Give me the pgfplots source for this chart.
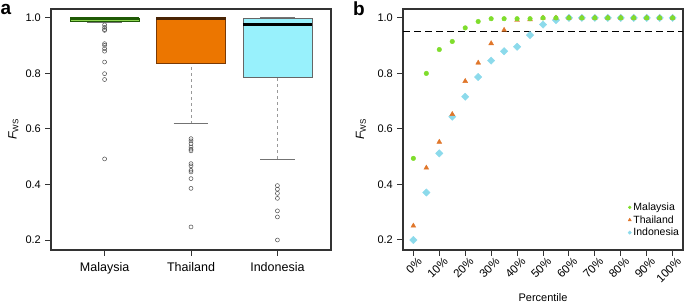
\documentclass[border=0pt]{standalone}
\usepackage{fontspec}
\setmainfont{Liberation Sans}
\usepackage{pgfplots}
\pgfplotsset{compat=1.18}
\usepgfplotslibrary{statistics}
\definecolor{mgreenfill}{HTML}{8ED653}
\definecolor{mgreendark}{HTML}{1F5A05}
\definecolor{thorange}{HTML}{EC7600}
\definecolor{thdark}{HTML}{7A3A05}
\definecolor{idcyan}{HTML}{98F1FC}
\definecolor{axcol}{HTML}{333333}
\definecolor{ptgreen}{HTML}{7FDD2C}
\definecolor{ptorange}{HTML}{E0762A}
\definecolor{ptblue}{HTML}{8CDAEB}
\pgfplotsset{
  boxplot/draw/lower whisker/.code={%
    \draw[dashed, gray!80, line width=0.6pt] (boxplot cs:\pgfplotsboxplotvalue{lower whisker}) -- (boxplot cs:\pgfplotsboxplotvalue{lower quartile});
    \draw[gray!90!black, line width=0.8pt] (boxplot whisker cs:\pgfplotsboxplotvalue{lower whisker},0) -- (boxplot whisker cs:\pgfplotsboxplotvalue{lower whisker},1);
  },
  boxplot/draw/upper whisker/.code={%
    \draw[dashed, gray!80, line width=0.6pt] (boxplot cs:\pgfplotsboxplotvalue{upper whisker}) -- (boxplot cs:\pgfplotsboxplotvalue{upper quartile});
    \draw[gray!90!black, line width=0.8pt] (boxplot whisker cs:\pgfplotsboxplotvalue{upper whisker},0) -- (boxplot whisker cs:\pgfplotsboxplotvalue{upper whisker},1);
  },
  myaxis/.style={
    scale only axis, width=280pt, height=241pt, anchor=south west,
    ymin=0.164, ymax=1.032,
    ytick={0.2,0.4,0.6,0.8,1.0},
    yticklabels={0.2,0.4,0.6,0.8,1.0},
    axis line style={draw=axcol, line width=1.1pt},
    tick style={draw=axcol, line width=1pt},
    major tick length=6pt,
    tick align=outside,
    xtick pos=bottom, ytick pos=left,
    yticklabel style={font=\fontsize{11}{13}\selectfont, anchor=east, inner sep=0pt, xshift=-4pt},
    /pgf/number format/assume math mode=true,
    clip=false,
  },
}
\begin{document}
\begin{tikzpicture}[x=1pt,y=1pt]
\useasboundingbox (0,0) rectangle (685,304);
% ---------------- panel a
\begin{axis}[myaxis, at={(51pt,54pt)},
  xmin=0.38, xmax=3.62,
  xtick={1,2,3}, xticklabels={Malaysia,Thailand,Indonesia},
  xticklabel style={font=\fontsize{12.5}{14}\selectfont, anchor=north, inner sep=0pt, yshift=-6pt},
  boxplot/draw direction=y,
  boxplot/box extend=0.8, boxplot/whisker extend=0.4,
]
\addplot[boxplot prepared={draw position=1, lower whisker=0.984, lower quartile=0.988, median=0.9985, upper quartile=1.0, upper whisker=1.0},
  boxplot/every box/.style={fill=mgreenfill, draw=mgreendark, line width=0.7pt},
  boxplot/every median/.style={draw=mgreendark, line width=2.6pt},
  mark=o, mark size=2pt, mark options={draw=gray!60!black, line width=0.5pt, solid}]
  coordinates {(0,0.975) (0,0.966) (0,0.958) (0,0.955) (0,0.907) (0,0.901) (0,0.889) (0,0.880) (0,0.841) (0,0.799) (0,0.778) (0,0.492)};
\addplot[boxplot prepared={draw position=2, lower whisker=0.619, lower quartile=0.835, median=0.9985, upper quartile=1.0, upper whisker=1.0},
  boxplot/every box/.style={fill=thorange, draw=thdark, line width=0.7pt},
  boxplot/every median/.style={draw=thdark!60!black, line width=2.6pt},
  mark=o, mark size=2pt, mark options={draw=gray!60!black, line width=0.5pt, solid}]
  coordinates {(0,0.565) (0,0.557) (0,0.547) (0,0.535) (0,0.527) (0,0.521) (0,0.475) (0,0.467) (0,0.451) (0,0.445) (0,0.421) (0,0.386) (0,0.247)};
\addplot[boxplot prepared={draw position=3, lower whisker=0.492, lower quartile=0.785, median=0.976, upper quartile=1.0, upper whisker=1.0},
  boxplot/every box/.style={fill=idcyan, draw=gray!80!black, line width=0.7pt},
  boxplot/every median/.style={draw=black, line width=2.2pt},
  mark=o, mark size=2pt, mark options={draw=gray!60!black, line width=0.5pt, solid}]
  coordinates {(0,0.396) (0,0.383) (0,0.368) (0,0.350) (0,0.305) (0,0.283) (0,0.200)};
\end{axis}
% ---------------- panel b
\begin{axis}[myaxis, at={(403pt,54pt)},
  xmin=-4, xmax=104,
  xtick={0,10,20,30,40,50,60,70,80,90,100},
  xticklabels={0\%,10\%,20\%,30\%,40\%,50\%,60\%,70\%,80\%,90\%,100\%},
  xticklabel style={font=\fontsize{11.5}{13}\selectfont, rotate=45, anchor=north east, inner sep=0pt, xshift=2pt, yshift=-3pt},
  legend style={at={(0.803,0.205)}, anchor=north west, draw=none, fill=none, font=\fontsize{10.5}{11.5}\selectfont, inner sep=0pt, row sep=-0.5pt, /tikz/every even column/.append style={column sep=2pt}},
  legend cell align=left,
  legend image code/.code={\draw[#1] plot coordinates {(3pt,0pt)};},
]
\addplot[dashed, black, line width=1.1pt, dash pattern=on 7pt off 4pt, forget plot] coordinates {(-4,0.95) (104,0.95)};
\addplot[only marks, mark=square*, mark size=2.6pt, color=ptblue, mark options={rotate=45}, forget plot] coordinates {
(0,0.200) (5,0.371) (10,0.512) (15,0.644) (20,0.716) (25,0.787) (30,0.846) (35,0.880) (40,0.896) (45,0.938) (50,0.976) (55,0.992) (60,1.0) (65,1.0) (70,1.0) (75,1.0) (80,1.0) (85,1.0) (90,1.0) (95,1.0) (100,1.0)};
\addplot[only marks, mark=triangle*, mark size=2.8pt, color=ptorange, forget plot] coordinates {
(0,0.251) (5,0.460) (10,0.553) (15,0.653) (20,0.772) (25,0.838) (30,0.908) (35,0.956) (40,0.992) (45,0.994) (50,1.0) (55,1.0) (60,1.0) (65,1.0) (70,1.0) (75,1.0) (80,1.0) (85,1.0) (90,1.0) (95,1.0) (100,1.0)};
\addplot[only marks, mark=*, mark size=2.3pt, color=ptgreen, forget plot] coordinates {
(0,0.494) (5,0.800) (10,0.886) (15,0.915) (20,0.964) (25,0.987) (30,0.997) (35,0.997) (40,0.997) (45,0.997) (50,1.0) (55,1.0) (60,1.0) (65,1.0) (70,1.0) (75,1.0) (80,1.0) (85,1.0) (90,1.0) (95,1.0) (100,1.0)};
\addlegendimage{only marks, mark=*, mark size=1.4pt, color=ptgreen}
\addlegendentry{Malaysia}
\addlegendimage{only marks, mark=triangle*, mark size=1.8pt, color=ptorange}
\addlegendentry{Thailand}
\addlegendimage{only marks, mark=square*, mark size=1.2pt, mark options={rotate=45}, color=ptblue}
\addlegendentry{Indonesia}
\end{axis}
% ---------------- labels
\node[font=\bfseries\fontsize{19}{20}\selectfont, anchor=base] at (6,289) {a};
\node[font=\bfseries\fontsize{19}{20}\selectfont, anchor=base] at (359,288) {b};
\node[rotate=90, font=\fontsize{12}{14}\selectfont] at (13.5,175) {\itshape F\upshape\textsubscript{WS}};
\node[rotate=90, font=\fontsize{12}{14}\selectfont] at (361,175) {\itshape F\upshape\textsubscript{WS}};
\node[font=\fontsize{11}{13}\selectfont] at (543,6) {Percentile};
\end{tikzpicture}
\end{document}
